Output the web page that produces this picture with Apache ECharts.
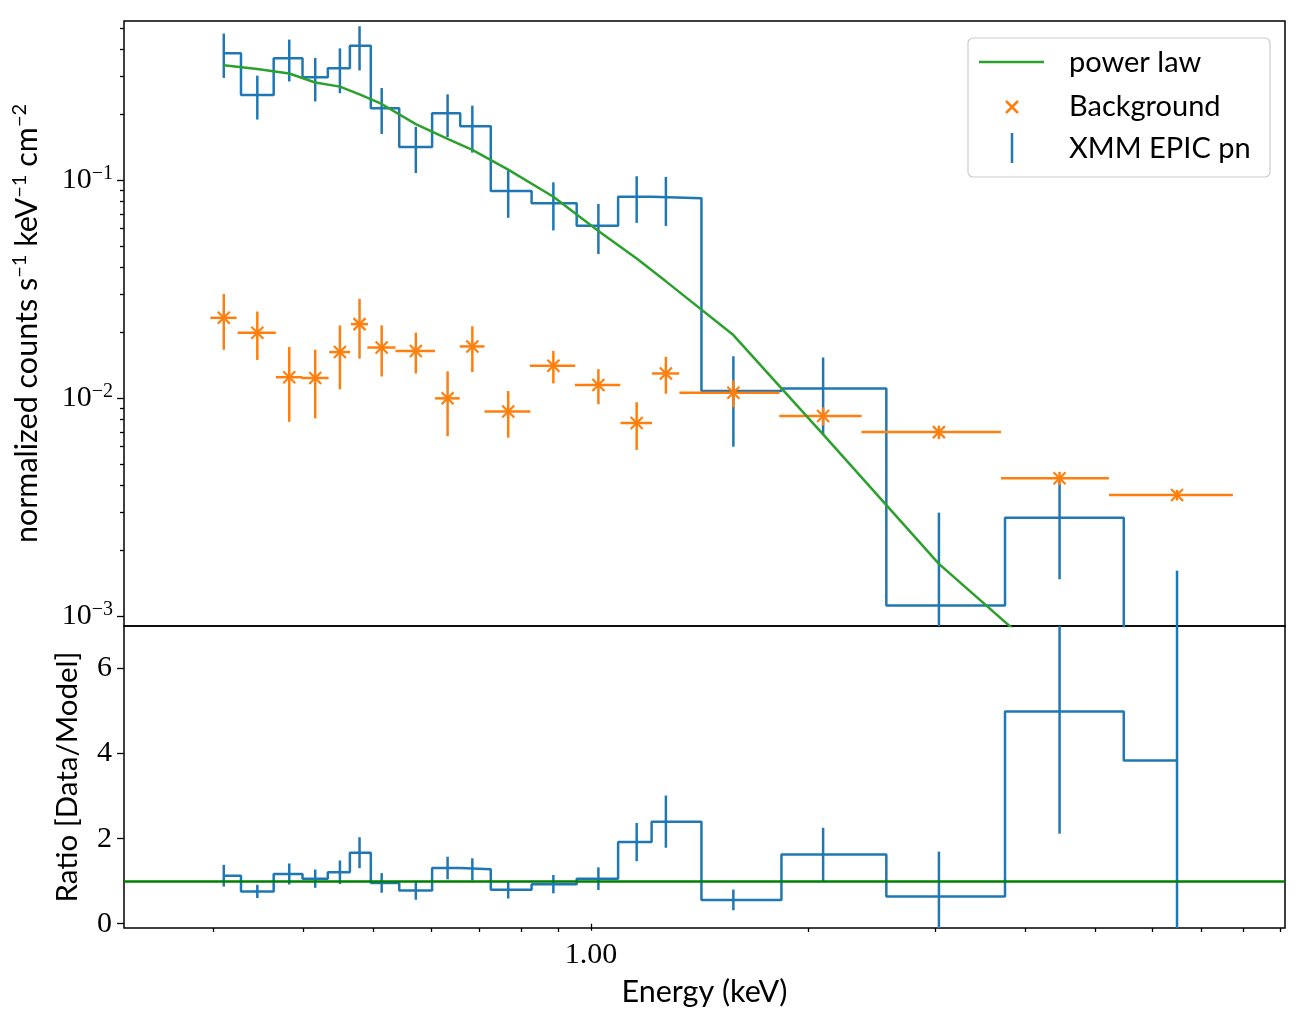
<!DOCTYPE html>
<html>
<head>
<meta charset="utf-8">
<script src="https://cdn.jsdelivr.net/npm/echarts@6/dist/echarts.min.js"></script>
<style>
html,body{margin:0;padding:0;background:#ffffff;}
#chart{width:1309px;height:1026px;}
</style>
</head>
<body>
<div id="chart"></div>
<script>
// ---------------- data ----------------
const energy = [0.310, 0.345, 0.382, 0.415, 0.449, 0.478, 0.513, 0.572, 0.633, 0.685,
                0.768, 0.887, 1.024, 1.157, 1.270, 1.575, 2.097, 3.034, 4.458, 6.484];
const energyHalfWidth = [0.013, 0.021, 0.016, 0.018, 0.015, 0.013, 0.023, 0.036, 0.025, 0.027,
                         0.056, 0.064, 0.074, 0.058, 0.055, 0.249, 0.273, 0.664, 0.760, 1.265];
const xmmFlux = [0.383, 0.246, 0.363, 0.297, 0.327, 0.414, 0.214, 0.142, 0.203, 0.177,
                 0.0893, 0.0784, 0.0619, 0.0841, 0.0827, 0.0108, 0.0111, 0.00112, 0.00283, 0.00027];
const xmmErr = [0.088, 0.056, 0.079, 0.067, 0.076, 0.095, 0.051, 0.034, 0.045, 0.043,
                0.022, 0.0195, 0.016, 0.0203, 0.021, 0.0048, 0.0043, 0.00187, 0.00135, 0.00135];
const bkgFlux = [0.0234, 0.0200, 0.0125, 0.0124, 0.0163, 0.0219, 0.0171, 0.0165, 0.0100, 0.0173,
                 0.0087, 0.0141, 0.0115, 0.0077, 0.0130, 0.0106, 0.0083, 0.0070, 0.0043, 0.0036];
const bkgErr = [0.0067, 0.0050, 0.0047, 0.0043, 0.0053, 0.0067, 0.0045, 0.0035, 0.0033, 0.0041,
                0.0021, 0.0024, 0.0021, 0.0019, 0.0025, 0.0015, 0.0008, 0.0005, 0.0003, 0.0002];
const modelFlux = [0.337, 0.324, 0.309, 0.281, 0.269, 0.248, 0.224, 0.181, 0.155, 0.138,
                   0.112, 0.0841, 0.0586, 0.0438, 0.0344, 0.0195, 0.00683, 0.00174, 0.000568, 0.00007];
const ratio = [1.13, 0.76, 1.17, 1.06, 1.21, 1.67, 0.96, 0.78, 1.31, 1.28,
               0.80, 0.93, 1.06, 1.92, 2.40, 0.56, 1.63, 0.64, 4.99, 3.84];
const ratioErr = [0.255, 0.156, 0.247, 0.215, 0.277, 0.364, 0.23, 0.215, 0.266, 0.258,
                  0.208, 0.215, 0.266, 0.45, 0.614, 0.243, 0.626, 1.056, 2.873, 19];

const xMajorTicks = [1];
const xMinorTicks = [0.3, 0.4, 0.5, 0.6, 0.7, 0.8, 0.9, 2, 3, 4, 5, 6, 7, 8, 9];
const yMajorTicks = [0.001, 0.01, 0.1];
const yMinorTicks = [0.002, 0.003, 0.004, 0.005, 0.006, 0.007, 0.008, 0.009,
                     0.02, 0.03, 0.04, 0.05, 0.06, 0.07, 0.08, 0.09,
                     0.2, 0.3, 0.4, 0.5];
const ratioTicks = [0, 2, 4, 6];

const xRange = [0.2255, 9.15];
const fluxRange = [0.000903, 0.538];
const ratioRange = [-0.1, 7.0];
const unityRatio = 1;

const legendLabels = ['power law', 'Background', 'XMM EPIC pn'];

// ---------------- styles ----------------
const BLUE = '#1f77b4', ORANGE = '#ff7f0e', GREEN = '#2ca02c', DGREEN = '#008000';
const SERIF = '"Liberation Serif", "DejaVu Serif", serif';
const SANS = 'Lato, "Noto Sans", sans-serif';
const LW = 2.5;

function stepPoints(xs, ys) {
  const pts = [];
  for (let i = 0; i < xs.length; i++) {
    const a = i === 0 ? xs[0] : (xs[i - 1] + xs[i]) / 2;
    const b = i === xs.length - 1 ? xs[i] : (xs[i] + xs[i + 1]) / 2;
    pts.push([a, ys[i]], [b, ys[i]]);
  }
  return pts;
}
function clampY(y, cs) { return Math.min(Math.max(y, cs.y), cs.y + cs.height); }
function clampX(x, cs) { return Math.min(Math.max(x, cs.x), cs.x + cs.width); }

function vErrRender(color, isLog) {
  return function (params, api) {
    const cs = params.coordSys;
    const x = api.value(0), y = api.value(1), e = api.value(2);
    const lo = isLog ? Math.max(y - e, 1e-9) : y - e;
    const p1 = api.coord([x, y + e]);
    const p2 = api.coord([x, lo]);
    return {
      type: 'line',
      shape: { x1: p1[0], y1: clampY(p1[1], cs), x2: p2[0], y2: clampY(p2[1], cs) },
      style: { stroke: color, lineWidth: LW }
    };
  };
}

function bkgRender(params, api) {
  const cs = params.coordSys;
  const x = api.value(0), y = api.value(1), xe = api.value(2), ye = api.value(3);
  const c = api.coord([x, y]);
  const l = api.coord([x - xe, y]), r = api.coord([x + xe, y]);
  const t = api.coord([x, y + ye]), b = api.coord([x, Math.max(y - ye, 1e-9)]);
  const s = 6;
  const st = { stroke: ORANGE, lineWidth: LW };
  return {
    type: 'group',
    children: [
      { type: 'line', shape: { x1: clampX(l[0], cs), y1: c[1], x2: clampX(r[0], cs), y2: c[1] }, style: st },
      { type: 'line', shape: { x1: c[0], y1: clampY(t[1], cs), x2: c[0], y2: clampY(b[1], cs) }, style: st },
      { type: 'line', shape: { x1: c[0] - s, y1: c[1] - s, x2: c[0] + s, y2: c[1] + s }, style: { stroke: ORANGE, lineWidth: 2.2 } },
      { type: 'line', shape: { x1: c[0] - s, y1: c[1] + s, x2: c[0] + s, y2: c[1] - s }, style: { stroke: ORANGE, lineWidth: 2.2 } }
    ]
  };
}

const tickStyle = { color: '#000', width: 1.3 };

const chart = echarts.init(document.getElementById('chart'), null, { renderer: 'canvas' });

const option = {
  animation: false,
  backgroundColor: '#ffffff',
  grid: [
    { left: 124, top: 21, width: 1161, height: 605, show: true, borderColor: '#000', borderWidth: 1.5,
      backgroundColor: 'transparent', containLabel: false, outerBoundsMode: 'none' },
    { left: 124, top: 626, width: 1161, height: 302, show: true, borderColor: '#000', borderWidth: 1.5,
      backgroundColor: 'transparent', containLabel: false, outerBoundsMode: 'none' }
  ],
  xAxis: [
    { type: 'log', gridIndex: 0, min: xRange[0], max: xRange[1], position: 'bottom',
      axisLine: { show: false }, axisTick: { show: false }, axisLabel: { show: false }, splitLine: { show: false } },
    { type: 'log', gridIndex: 1, min: xRange[0], max: xRange[1], position: 'bottom',
      axisLine: { show: false },
      axisTick: { show: true, length: 7, lineStyle: tickStyle, customValues: xMajorTicks },
      axisLabel: { show: true, customValues: xMajorTicks, formatter: v => Number(v).toFixed(2),
                   margin: 12, fontFamily: SERIF, fontSize: 30, color: '#000' },
      splitLine: { show: false },
      name: 'Energy (keV)', nameLocation: 'middle', nameGap: 49,
      nameTextStyle: { fontFamily: SANS, fontSize: 30.5, color: '#000' } },
    { type: 'log', gridIndex: 1, min: xRange[0], max: xRange[1], position: 'bottom',
      axisLine: { show: false },
      axisTick: { show: true, length: 4, lineStyle: tickStyle, customValues: xMinorTicks },
      axisLabel: { show: false }, splitLine: { show: false } }
  ],
  yAxis: [
    { type: 'log', gridIndex: 0, min: fluxRange[0], max: fluxRange[1], position: 'left',
      axisLine: { show: false },
      axisTick: { show: true, length: 7, lineStyle: tickStyle, customValues: yMajorTicks },
      axisLabel: { show: true, customValues: yMajorTicks, margin: 11,
        formatter: v => '{b|10}{s|\u2212' + Math.abs(Math.round(Math.log10(v))) + '}',
        rich: {
          b: { fontFamily: SERIF, fontSize: 30, color: '#000', lineHeight: 34 },
          s: { fontFamily: SERIF, fontSize: 20, color: '#000', lineHeight: 14, verticalAlign: 'top' }
        } },
      splitLine: { show: false },
      name: 'normalized counts s{s|\u22121} keV{s|\u22121} cm{s|\u22122}',
      nameLocation: 'middle', nameRotate: 90, nameGap: 80,
      nameTextStyle: { fontFamily: SANS, fontSize: 30.5, color: '#000', lineHeight: 34,
        rich: { s: { fontFamily: SANS, fontSize: 20, color: '#000', lineHeight: 14, verticalAlign: 'top' } } } },
    { type: 'log', gridIndex: 0, min: fluxRange[0], max: fluxRange[1], position: 'left',
      axisLine: { show: false },
      axisTick: { show: true, length: 4, lineStyle: tickStyle, customValues: yMinorTicks },
      axisLabel: { show: false }, splitLine: { show: false } },
    { type: 'value', gridIndex: 1, min: ratioRange[0], max: ratioRange[1], position: 'left',
      axisLine: { show: false },
      axisTick: { show: true, length: 7, lineStyle: tickStyle, customValues: ratioTicks },
      axisLabel: { show: true, customValues: ratioTicks, margin: 12, fontFamily: SERIF, fontSize: 30, color: '#000' },
      splitLine: { show: false },
      name: 'Ratio [Data/Model]', nameLocation: 'middle', nameRotate: 90, nameGap: 42,
      nameTextStyle: { fontFamily: SANS, fontSize: 29.5, color: '#000' } }
  ],
  series: [
    { name: 'XMM EPIC pn', type: 'line', xAxisIndex: 0, yAxisIndex: 0,
      data: stepPoints(energy, xmmFlux), symbol: 'none', showSymbol: false, clip: true,
      lineStyle: { color: BLUE, width: LW }, itemStyle: { color: BLUE }, z: 2 },
    { name: 'XMM EPIC pn', type: 'custom', xAxisIndex: 0, yAxisIndex: 0,
      data: energy.map((e, i) => [e, xmmFlux[i], xmmErr[i]]),
      encode: { x: 0, y: 1 }, renderItem: vErrRender(BLUE, true), z: 2 },
    { name: 'Background', type: 'custom', xAxisIndex: 0, yAxisIndex: 0,
      data: energy.map((e, i) => [e, bkgFlux[i], energyHalfWidth[i], bkgErr[i]]),
      encode: { x: 0, y: 1 }, renderItem: bkgRender, z: 3 },
    { name: 'power law', type: 'line', xAxisIndex: 0, yAxisIndex: 0,
      data: energy.map((e, i) => [e, modelFlux[i]]), symbol: 'none', showSymbol: false, clip: true,
      lineStyle: { color: GREEN, width: LW }, itemStyle: { color: GREEN }, z: 4 },
    { name: 'ratio', type: 'line', xAxisIndex: 1, yAxisIndex: 2,
      data: stepPoints(energy, ratio), symbol: 'none', showSymbol: false, clip: true,
      lineStyle: { color: BLUE, width: LW }, z: 2 },
    { name: 'ratio err', type: 'custom', xAxisIndex: 1, yAxisIndex: 2,
      data: energy.map((e, i) => [e, ratio[i], ratioErr[i]]),
      encode: { x: 0, y: 1 }, renderItem: vErrRender(BLUE, false), z: 2 },
    { name: 'unity', type: 'line', xAxisIndex: 1, yAxisIndex: 2, data: [], z: 5,
      markLine: { silent: true, symbol: 'none', label: { show: false },
        lineStyle: { color: DGREEN, width: LW, type: 'solid' },
        data: [{ yAxis: unityRatio }] } }
  ],
  graphic: [
    { type: 'group', z: 100, children: [
      { type: 'rect', shape: { x: 968, y: 38, width: 302, height: 139, r: 5 },
        style: { fill: 'rgba(255,255,255,0.85)', stroke: '#cccccc', lineWidth: 1.2 } },
      { type: 'line', shape: { x1: 979, y1: 62, x2: 1044, y2: 62 }, style: { stroke: GREEN, lineWidth: LW } },
      { type: 'line', shape: { x1: 1006, y1: 101, x2: 1018, y2: 113 }, style: { stroke: ORANGE, lineWidth: 2.5 } },
      { type: 'line', shape: { x1: 1006, y1: 113, x2: 1018, y2: 101 }, style: { stroke: ORANGE, lineWidth: 2.5 } },
      { type: 'line', shape: { x1: 1012, y1: 133, x2: 1012, y2: 163 }, style: { stroke: BLUE, lineWidth: LW } },
      { type: 'text', x: 1069, y: 63, style: { text: legendLabels[0], font: '29px ' + SANS, fill: '#000', textVerticalAlign: 'middle', verticalAlign: 'middle' } },
      { type: 'text', x: 1069, y: 107, style: { text: legendLabels[1], font: '29px ' + SANS, fill: '#000', textVerticalAlign: 'middle', verticalAlign: 'middle' } },
      { type: 'text', x: 1069, y: 149, style: { text: legendLabels[2], font: '29px ' + SANS, fill: '#000', textVerticalAlign: 'middle', verticalAlign: 'middle' } }
    ] }
  ]
};

chart.setOption(option);
</script>
</body>
</html>
